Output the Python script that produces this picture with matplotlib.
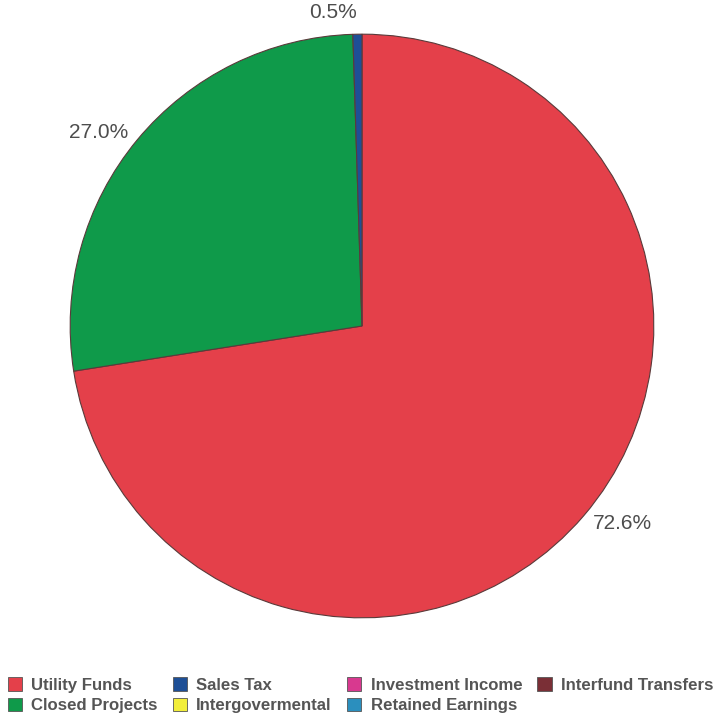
import matplotlib
matplotlib.use("Agg")
import matplotlib.pyplot as plt
from matplotlib.patches import Patch

categories = ["Utility Funds", "Closed Projects", "Sales Tax", "Intergovermental",
              "Investment Income", "Retained Earnings", "Interfund Transfers"]
values = [72.6, 27.0, 0.5, 0.0, 0.0, 0.0, 0.0]
colors = ["#E4404A", "#0F9A4A", "#1E4F96", "#F2EE3A", "#D8398F", "#2B8FBE", "#7A2F36"]

plt.rcParams['font.family'] = ['Liberation Sans', 'DejaVu Sans']

fig = plt.figure(figsize=(7.19, 7.15), dpi=100)
ax = fig.add_axes([41/719, 68/715, 642/719, 642/715])

nz = [i for i, v in enumerate(values) if v > 0]
wedges, texts = ax.pie(
    [values[i] for i in nz],
    colors=[colors[i] for i in nz],
    labels=[f"{values[i]:.1f}%" for i in nz],
    startangle=90, counterclock=False, radius=1.0,
    labeldistance=1.04,
    wedgeprops=dict(edgecolor="#5a3a3a", linewidth=0.8),
    textprops=dict(color="#4d4d4d", fontsize=15),
)
# the tiny slice label sits a little further out
x, y = texts[2].get_position()
texts[2].set_position((x * 1.07 / 1.04, y * 1.075 / 1.04))
ax.set_xlim(-1.1, 1.1)
ax.set_ylim(-1.1, 1.1)
ax.set_aspect("equal")

handles = [Patch(facecolor=c, edgecolor="#555555", linewidth=0.6) for c in colors]
fig.legend(handles, categories, ncol=4, loc="lower left",
           bbox_to_anchor=(6/719, 0.0), frameon=False,
           prop=dict(weight="bold", size=12.1),
           handlelength=0.85, handleheight=0.85, handletextpad=0.55,
           columnspacing=0.9, labelspacing=0.3, labelcolor="#555555",
           borderaxespad=0.0, borderpad=0.1)

fig.savefig("out.png", dpi=100)
